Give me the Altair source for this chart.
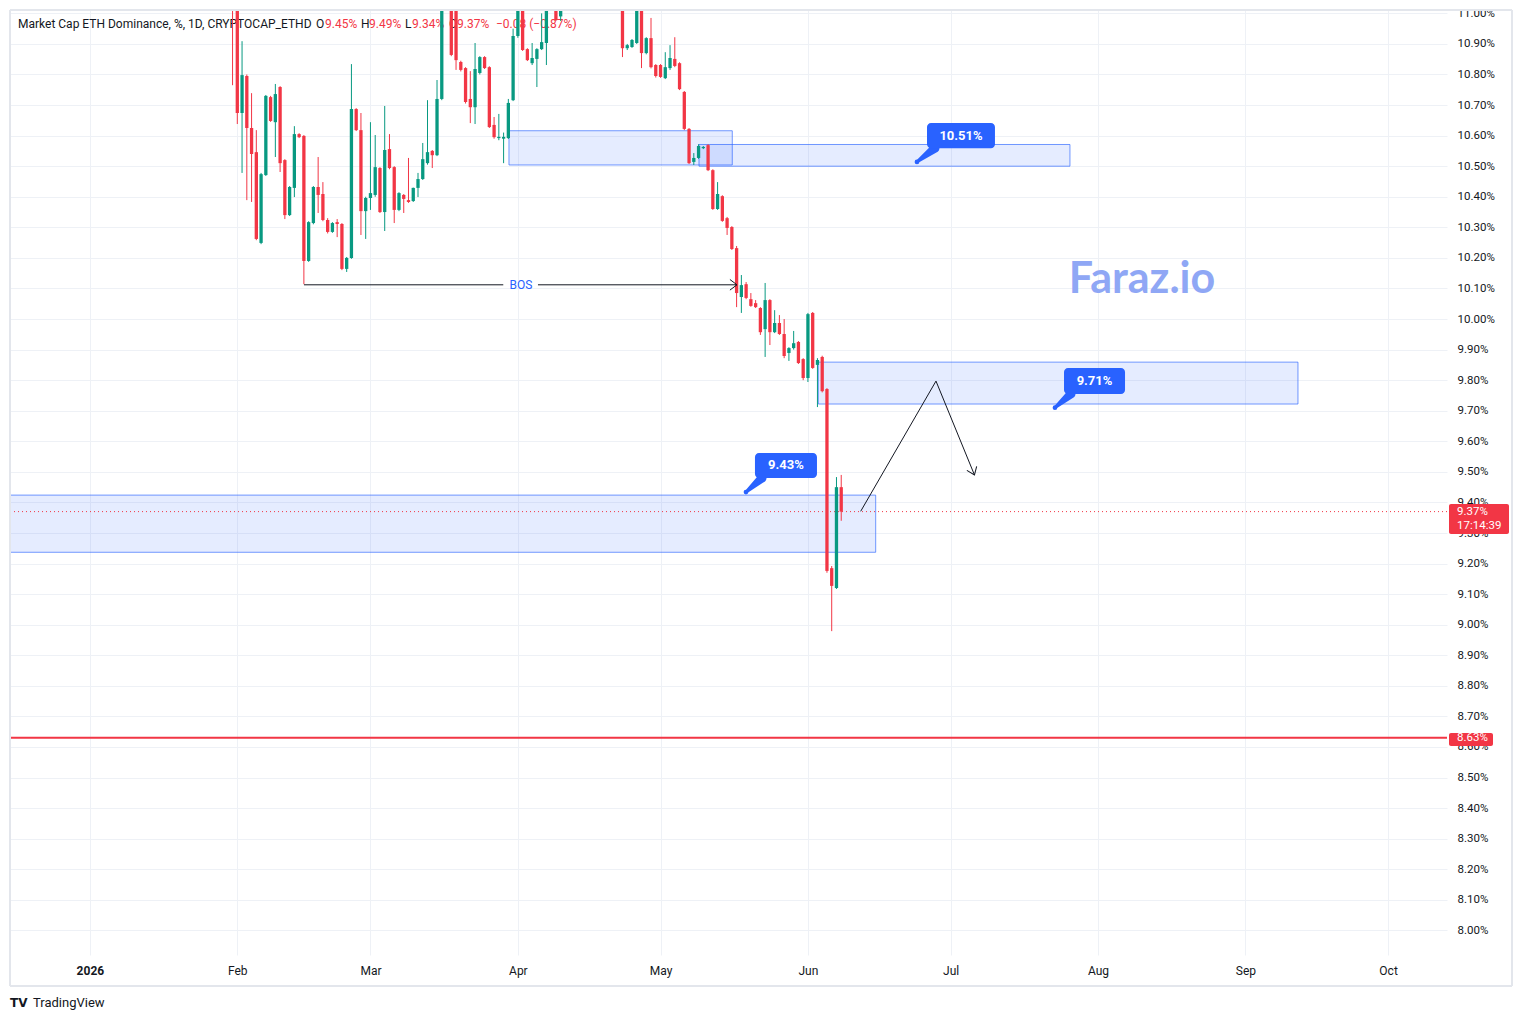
import altair as alt
import pandas as pd

# ---------------- data ----------------
FIRST_CANDLE = "2026-01-31"          # daily candles, consecutive days

OPEN = [
    11.12, 11.04, 10.674, 10.795, 10.625, 10.546, 10.249, 10.471, 10.726, 10.644,
    10.759, 10.520, 10.340, 10.429, 10.605, 10.599, 10.190, 10.314, 10.432, 10.409,
    10.324, 10.285, 10.317, 10.311, 10.164, 10.200, 10.687, 10.618, 10.353, 10.396,
    10.406, 10.494, 10.350, 10.556, 10.497, 10.357, 10.406, 10.389, 10.386, 10.429,
    10.458, 10.510, 10.550, 10.536, 10.720, 11.05, 11.09, 11.03, 10.841, 10.821,
    10.720, 10.693, 10.805, 10.857, 10.824, 10.635, 10.592, 10.590, 10.592, 10.716,
    10.926, 11.05, 10.883, 10.837, 10.851, 10.883, 10.903, 11.04, 11.08, 10.99,
    11.10, 11.16, 11.22, 11.17, 11.12, 11.25, 11.30, 11.22, 11.14, 11.18,
    11.10, 11.13, 11.06, 10.886, 10.890, 10.903, 11.03, 10.870, 10.919, 10.831,
    10.831, 10.788, 10.821, 10.851, 10.837, 10.743, 10.622, 10.514, 10.527, 10.559,
    10.569, 10.487, 10.360, 10.402, 10.330, 10.301, 10.232, 10.072, 10.114, 10.065,
    10.052, 10.036, 9.967, 10.062, 9.957, 9.987, 9.951, 9.889, 9.905, 9.925,
    9.869, 9.807, 10.020, 9.850, 9.876, 9.771, 9.185, 9.120, 9.45,
]
HIGH = [
    11.18, 11.07, 10.909, 10.80, 10.739, 10.618, 10.478, 10.733, 10.730, 10.769,
    10.762, 10.523, 10.435, 10.631, 10.608, 10.602, 10.320, 10.435, 10.530, 10.448,
    10.330, 10.317, 10.327, 10.314, 10.203, 10.834, 10.690, 10.674, 10.400, 10.644,
    10.602, 10.497, 10.697, 10.605, 10.500, 10.415, 10.409, 10.527, 10.430, 10.478,
    10.576, 10.716, 10.553, 10.782, 11.08, 11.14, 11.12, 11.05, 10.845, 10.824,
    10.811, 10.903, 10.860, 10.860, 10.827, 10.661, 10.671, 10.610, 10.720, 10.950,
    11.10, 11.08, 10.886, 10.903, 10.886, 11.00, 11.08, 11.12, 11.10, 11.13,
    11.18, 11.25, 11.30, 11.24, 11.28, 11.34, 11.36, 11.27, 11.21, 11.22,
    11.16, 11.15, 11.09, 10.900, 10.916, 11.06, 11.06, 10.922, 10.985, 10.834,
    10.834, 10.873, 10.896, 10.922, 10.840, 10.746, 10.625, 10.543, 10.572, 10.566,
    10.572, 10.490, 10.448, 10.405, 10.334, 10.304, 10.239, 10.144, 10.121, 10.085,
    10.062, 10.039, 10.118, 10.065, 10.029, 10.013, 10.000, 9.908, 9.961, 9.928,
    9.872, 10.020, 10.023, 9.872, 9.880, 9.774, 9.192, 9.483, 9.49,
]
LOW = [
    10.765, 10.638, 10.478, 10.389, 10.383, 10.258, 10.245, 10.468, 10.645, 10.530,
    10.481, 10.327, 10.337, 10.399, 10.592, 10.114, 10.187, 10.310, 10.347, 10.320,
    10.280, 10.282, 10.268, 10.160, 10.154, 10.197, 10.615, 10.275, 10.262, 10.357,
    10.400, 10.347, 10.288, 10.490, 10.314, 10.353, 10.347, 10.380, 10.383, 10.399,
    10.455, 10.505, 10.494, 10.533, 10.716, 11.03, 10.860, 10.815, 10.810, 10.705,
    10.641, 10.638, 10.800, 10.818, 10.625, 10.590, 10.585, 10.510, 10.589, 10.713,
    10.920, 10.877, 10.844, 10.831, 10.759, 10.880, 10.831, 11.02, 10.975, 10.975,
    11.03, 11.12, 11.15, 11.08, 11.10, 11.20, 11.19, 11.11, 11.06, 11.07,
    11.04, 11.03, 10.857, 10.880, 10.887, 10.900, 10.821, 10.866, 10.820, 10.790,
    10.789, 10.785, 10.815, 10.824, 10.749, 10.618, 10.507, 10.504, 10.524, 10.556,
    10.484, 10.357, 10.357, 10.318, 10.275, 10.226, 10.039, 10.020, 10.065, 10.040,
    10.036, 9.948, 9.876, 9.915, 9.954, 9.948, 9.872, 9.863, 9.900, 9.853,
    9.800, 9.794, 9.837, 9.712, 9.760, 9.170, 8.979, 9.117, 9.34,
]
CLOSE = [
    11.04, 10.674, 10.798, 10.625, 10.540, 10.262, 10.474, 10.730, 10.648, 10.736,
    10.510, 10.340, 10.432, 10.605, 10.595, 10.190, 10.317, 10.432, 10.406, 10.324,
    10.285, 10.314, 10.311, 10.164, 10.200, 10.687, 10.618, 10.353, 10.396, 10.412,
    10.497, 10.350, 10.553, 10.494, 10.357, 10.412, 10.393, 10.383, 10.429, 10.458,
    10.523, 10.546, 10.536, 10.720, 11.05, 11.10, 10.864, 10.847, 10.815, 10.710,
    10.693, 10.818, 10.857, 10.821, 10.628, 10.595, 10.596, 10.596, 10.707, 10.926,
    11.05, 10.880, 10.847, 10.854, 10.883, 10.906, 11.04, 11.08, 10.978, 11.10,
    11.16, 11.22, 11.17, 11.12, 11.25, 11.30, 11.22, 11.14, 11.18, 11.10,
    11.13, 11.06, 10.886, 10.896, 10.913, 11.03, 10.870, 10.919, 10.824, 10.795,
    10.792, 10.824, 10.854, 10.828, 10.752, 10.622, 10.510, 10.527, 10.566, 10.563,
    10.487, 10.360, 10.409, 10.321, 10.298, 10.229, 10.085, 10.111, 10.069, 10.043,
    10.039, 9.957, 10.062, 9.957, 9.987, 9.951, 9.879, 9.905, 9.921, 9.856,
    9.807, 10.016, 9.840, 9.866, 9.764, 9.176, 9.127, 9.450, 9.37,
]
assert len(OPEN) == len(HIGH) == len(LOW) == len(CLOSE)

# time positions are in days counted from 2026-01-01
X_DOMAIN_DAYS = [-16.80, 285.39]
Y_DOMAIN = [7.9195, 11.011]
MONTH_START_DAYS = [0, 31, 59, 90, 120, 151, 181, 212, 243, 273]
Y_TICKS = [8.0, 8.1, 8.2, 8.3, 8.4, 8.5, 8.6, 8.7, 8.8, 8.9, 9.0, 9.1, 9.2, 9.3,
           9.4, 9.5, 9.6, 9.7, 9.8, 9.9, 10.0, 10.1, 10.2, 10.3, 10.4, 10.5,
           10.6, 10.7, 10.8, 10.9, 11.0]

# zones (rectangles)
ZONE_FROM = [88.13, 128.09, 153.18, -30.0]
ZONE_TO = [135.09, 206.1, 254.05, 165.25]
ZONE_TOP = [10.616, 10.571, 9.859, 9.424]
ZONE_BOT = [10.504, 10.500, 9.722, 9.237]

# break of structure
BOS_LEVEL = 10.112
BOS_SEG_FROM = [45.02, 94.23]
BOS_SEG_TO = [86.93, 136.08]
BOS_TEXT_DAY = 90.66

# projected path
PATH_DAYS = [162.09, 177.93, 186.02]
PATH_PRICE = [9.371, 9.797, 9.490]

# callouts
CALL_TEXT = ["10.51%", "9.71%", "9.43%"]
CALL_FROM = [176.04, 204.85, 139.86]
CALL_TO = [190.33, 217.68, 152.9]
CALL_TOP = [10.641, 9.840, 9.562]
CALL_BOT = [10.559, 9.755, 9.480]
CALL_ATTACH = [177.72, 206.32, 141.35]
CALL_TIP_DAY = [173.93, 202.95, 137.97]
CALL_TIP_PRICE = [10.514, 9.710, 9.434]

LAST_PRICE = 9.37
LAST_BOX = [9.395, 9.297]
LAST_TEXT_PRICE = [9.369, 9.323]
LAST_TEXT = ["9.37%", "17:14:39"]
LEVEL = 8.63
LEVEL_BOX = [8.646, 8.603]

# ---------------- helpers ----------------
GREEN = "#089981"
RED = "#f23645"
BLUE = "#2962ff"
INK = "#131722"
GRID = "#eef1f6"
FONT = "Roboto"

JAN1_MS = int(pd.Timestamp("2026-01-01").value // 1_000_000)
DAY_MS = 86_400_000


def ms(day):
    return JAN1_MS + day * DAY_MS


first_day = (pd.Timestamp(FIRST_CANDLE) - pd.Timestamp("2026-01-01")).days
candles = pd.DataFrame({
    "t": [ms(first_day + i) for i in range(len(OPEN))],
    "open": OPEN, "high": HIGH, "low": LOW, "close": CLOSE,
})
candles["dir"] = ["up" if c >= o else "down" for o, c in zip(OPEN, CLOSE)]

XSCALE = alt.Scale(type="utc", domain=[ms(d) for d in X_DOMAIN_DAYS], nice=False, padding=0)
YSCALE = alt.Scale(domain=Y_DOMAIN, zero=False, nice=False, padding=0)
XAXIS = alt.Axis(
    title=None, values=[ms(d) for d in MONTH_START_DAYS],
    labelExpr="utcmonth(datum.value) == 0 ? utcFormat(datum.value, '%Y') : utcFormat(datum.value, '%b')",
    labelFontWeight={"condition": {"test": "utcmonth(datum.value) == 0", "value": "bold"}, "value": "normal"},
    grid=True, gridColor=GRID, ticks=False, tickSize=0, domain=False,
    labelFont=FONT, labelFontSize=12, labelColor=INK, labelPadding=10,
    labelOverlap=False,
)
YAXIS = alt.Axis(
    title=None, orient="right", values=Y_TICKS,
    labelExpr="format(datum.value, '.2f') + '%'",
    grid=True, gridColor=GRID, ticks=False, tickSize=0, domain=False,
    labelFont=FONT, labelFontSize=11.5, labelColor=INK, labelPadding=10,
    labelAlign="left", labelOverlap=False,
)


def X(field):
    return alt.X(field, type="temporal", scale=XSCALE, axis=XAXIS)


def Y(field):
    return alt.Y(field, type="quantitative", scale=YSCALE, axis=YAXIS)


ONE = pd.DataFrame({"k": [0]})


def ptext(s, x, y, **kw):
    kw.setdefault("font", FONT)
    kw.setdefault("align", "left")
    kw.setdefault("baseline", "middle")
    return alt.Chart(ONE).mark_text(**kw).encode(
        x=alt.value(x), y=alt.value(y), text=alt.value(s))


layers = []

# header legend (under candles)
HEADER = [
    ("Market Cap ETH Dominance, %, 1D, CRYPTOCAP_ETHD", 8, INK),
    ("O", 306, INK), ("9.45%", 315, RED),
    ("H", 351, INK), ("9.49%", 359, RED),
    ("L", 395, INK), ("9.34%", 402, RED),
    ("C", 439, INK), ("9.37%", 447, RED),
    ("\u22120.08 (\u22120.87%)", 486, RED),
]
for s, x, c in HEADER:
    layers.append(ptext(s, x, 14, fontSize=12, color=c))

# zones
zones = pd.DataFrame({"x1": [ms(d) for d in ZONE_FROM], "x2": [ms(d) for d in ZONE_TO],
                      "top": ZONE_TOP, "bot": ZONE_BOT})
layers.append(alt.Chart(zones).mark_rect(
    fill=BLUE, fillOpacity=0.12, stroke=BLUE, strokeOpacity=0.65, strokeWidth=1, clip=True
).encode(x=X("x1"), x2="x2", y=Y("top"), y2="bot"))

# watermark
layers.append(ptext("Faraz.io", 1132, 270, font="Lato", fontSize=43, fontWeight="bold",
                    color="#8fa7f5", align="center"))

# level line and last price line
layers.append(alt.Chart(pd.DataFrame({"p": [LEVEL]})).mark_rule(
    color=RED, strokeWidth=2, clip=True).encode(y=Y("p")))
layers.append(alt.Chart(pd.DataFrame({"p": [LAST_PRICE]})).mark_rule(
    color=RED, strokeWidth=1, strokeDash=[1, 3], clip=True).encode(y=Y("p")))

# candles
color = alt.Color("dir:N", scale=alt.Scale(domain=["up", "down"], range=[GREEN, RED]), legend=None)
layers.append(alt.Chart(candles).mark_rule(strokeWidth=1, clip=True).encode(
    x=X("t"), y=Y("low"), y2="high", color=color))
layers.append(alt.Chart(candles).mark_bar(size=3.3, clip=True).encode(
    x=X("t"), y=Y("open"), y2="close", color=color))

# BOS
bos = pd.DataFrame({"x1": [ms(d) for d in BOS_SEG_FROM], "x2": [ms(d) for d in BOS_SEG_TO],
                    "p": [BOS_LEVEL] * len(BOS_SEG_FROM)})
layers.append(alt.Chart(bos).mark_rule(color=INK, strokeWidth=1).encode(
    x=X("x1"), x2="x2", y=Y("p")))
layers.append(alt.Chart(pd.DataFrame({"x": [ms(BOS_TEXT_DAY)], "p": [BOS_LEVEL], "s": ["BOS"]}))
              .mark_text(font=FONT, fontSize=12, color=BLUE, baseline="middle")
              .encode(x=X("x"), y=Y("p"), text="s:N"))

# projected path
path = pd.DataFrame({"x": [ms(d) for d in PATH_DAYS], "p": PATH_PRICE,
                     "o": list(range(len(PATH_DAYS)))})
layers.append(alt.Chart(path).mark_line(color=INK, strokeWidth=1).encode(
    x=X("x"), y=Y("p"), order="o:Q"))

# arrow heads (BOS end, path end)
CHEVRON = "M-1,-0.75L0,0L-1,0.75"
heads = pd.DataFrame({"x": [ms(BOS_SEG_TO[-1]), ms(PATH_DAYS[-1])],
                      "p": [BOS_LEVEL, PATH_PRICE[-1]], "ang": [0, 67.5]})
layers.append(alt.Chart(heads).mark_point(shape=CHEVRON, size=200, filled=False,
                                          stroke=INK, strokeWidth=1, opacity=1).encode(
    x=X("x"), y=Y("p"), angle=alt.Angle("ang:Q", scale=None)))

# callouts
tails = []
for i in range(len(CALL_TEXT)):
    tails.append({"id": i, "o": 0, "x": ms(CALL_ATTACH[i]), "p": CALL_BOT[i], "w": 9})
    tails.append({"id": i, "o": 1, "x": ms(CALL_TIP_DAY[i]), "p": CALL_TIP_PRICE[i], "w": 3})
tails = pd.DataFrame(tails)
layers.append(alt.Chart(tails).mark_trail(color=BLUE).encode(
    x=X("x"), y=Y("p"), size=alt.Size("w:Q", scale=None, legend=None),
    detail="id:N", order="o:Q"))
tips = pd.DataFrame({"x": [ms(d) for d in CALL_TIP_DAY], "p": CALL_TIP_PRICE})
layers.append(alt.Chart(tips).mark_circle(color=BLUE, size=22, opacity=1).encode(
    x=X("x"), y=Y("p")))
boxes = pd.DataFrame({
    "x1": [ms(d) for d in CALL_FROM], "x2": [ms(d) for d in CALL_TO],
    "top": CALL_TOP, "bot": CALL_BOT, "s": CALL_TEXT,
    "xm": [ms((a + b) / 2) for a, b in zip(CALL_FROM, CALL_TO)],
    "pm": [(a + b) / 2 for a, b in zip(CALL_TOP, CALL_BOT)],
})
layers.append(alt.Chart(boxes).mark_rect(color=BLUE, cornerRadius=4).encode(
    x=X("x1"), x2="x2", y=Y("top"), y2="bot"))
layers.append(alt.Chart(boxes).mark_text(font=FONT, fontSize=13, fontWeight="bold",
                                         color="white", baseline="middle").encode(
    x=X("xm"), y=Y("pm"), text="s:N"))

# price-scale labels
layers.append(alt.Chart(pd.DataFrame({"a": [LAST_BOX[0]], "b": [LAST_BOX[1]]}))
              .mark_rect(color=RED, cornerRadius=2).encode(
    x=alt.value(1439), x2=alt.value(1499), y=Y("a"), y2="b"))
layers.append(alt.Chart(pd.DataFrame({"p": LAST_TEXT_PRICE, "s": LAST_TEXT}))
              .mark_text(font=FONT, fontSize=11.5, color="white", align="left",
                         baseline="middle").encode(x=alt.value(1447), y=Y("p"), text="s:N"))
layers.append(alt.Chart(pd.DataFrame({"a": [LEVEL_BOX[0]], "b": [LEVEL_BOX[1]]}))
              .mark_rect(color=RED, cornerRadius=2).encode(
    x=alt.value(1439), x2=alt.value(1483), y=Y("a"), y2="b"))
layers.append(alt.Chart(pd.DataFrame({"p": [LEVEL], "s": ["8.63%"]}))
              .mark_text(font=FONT, fontSize=11.5, color="white", align="left",
                         baseline="middle").encode(x=alt.value(1447), y=Y("p"), text="s:N"))

# frame
FRAME = "#e3e6ec"
layers.append(alt.Chart(ONE).mark_rule(color=FRAME, strokeWidth=2).encode(
    x=alt.value(0), x2=alt.value(1502), y=alt.value(0)))
layers.append(alt.Chart(ONE).mark_rule(color=FRAME, strokeWidth=2).encode(
    x=alt.value(0), x2=alt.value(1502), y=alt.value(976)))
layers.append(alt.Chart(ONE).mark_rule(color=FRAME, strokeWidth=2).encode(
    x=alt.value(0), y=alt.value(0), y2=alt.value(976)))
layers.append(alt.Chart(ONE).mark_rule(color=FRAME, strokeWidth=2).encode(
    x=alt.value(1502), y=alt.value(0), y2=alt.value(976)))

# TradingView logo text
layers.append(ptext("TV", 0, 993, font="DejaVu Sans", fontSize=12, fontWeight="bold", color=INK))
layers.append(ptext("TradingView", 23, 993, fontSize=13, color=INK))

chart = alt.layer(*layers).properties(
    width=1437, height=945,
    padding={"left": 10, "top": 10, "right": 76, "bottom": 66},
    autosize=alt.AutoSizeParams(type="none"),
    background="white",
).configure_view(stroke=None)

chart.save("out.html", embed_options={"renderer": "svg", "actions": False})
